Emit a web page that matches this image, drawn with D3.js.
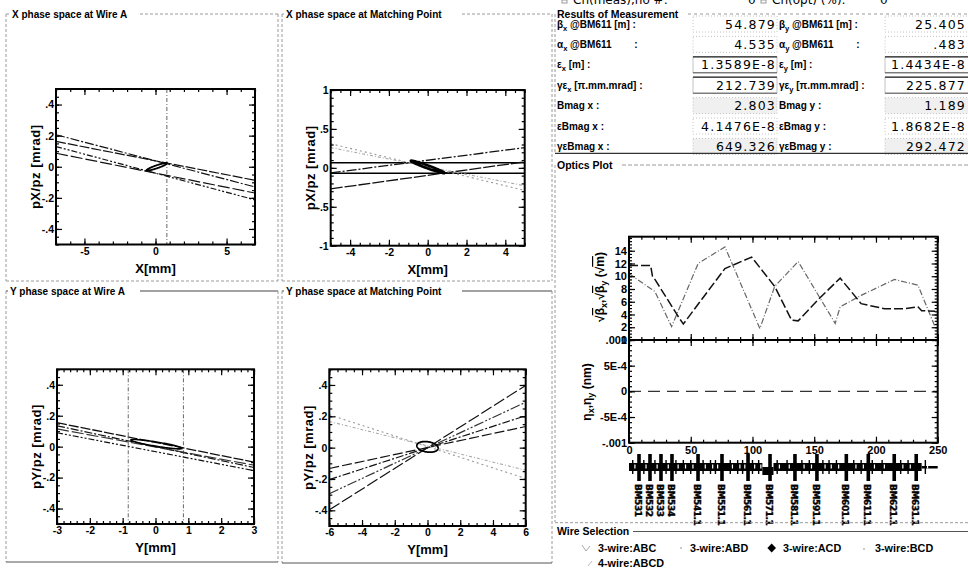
<!DOCTYPE html>
<html><head><meta charset="utf-8">
<script src="https://cdn.jsdelivr.net/npm/d3@7/dist/d3.min.js"></script>
<style>
body{margin:0;background:#fff;}
svg{display:block;}
</style></head><body>
<svg id="c" width="968" height="570"></svg>
<script>
// ================= DATA =================
// phase-space lines [x0, y0, x1, y1] in data units
const xWireA_lines=[[-7,0.206,7,-0.130],[-7,0.163,7,-0.087],[-7,0.130,7,-0.213],[-7,0.087,7,-0.169]];
const xWireA_wireX=[0.8];
const xWireA_beam=[0.1,0.0,0.72,0.022,0.010];      // xc, yc, A, B, C
const xMatch_lines=[[-5,0.065,5,0.065],[-5,-0.07,5,-0.07],[-5,-0.065,5,0.26],[-5,-0.27,5,0.077],[-5,0.31,5,-0.29],[-5,0.26,5,-0.23]];
const xMatch_beam=[0.0,0.012,0.87,-0.078,0.02];
const yWireA_lines=[[-3,0.155,3,-0.10],[-3,0.135,3,-0.135],[-3,0.115,3,-0.12],[-3,0.09,3,-0.155]];
const yWireA_wireX=[-0.83,0.85];
const yWireA_beam=[0.03,0.016,0.78,-0.027,0.014];
const yMatch_lines=[[-6,0.21,6,-0.197],[-6,0.167,6,-0.144],[-6,-0.133,6,0.135],[-6,-0.204,6,0.204],[-6,-0.294,6,0.29],[-6,-0.397,6,0.397]];
const yMatch_beam=[0.0,0.005,0.65,-0.008,0.033];

const ticksX7=[-5,0,5], ticksY5=[-0.4,-0.2,0,0.2,0.4];
const ticksX5=[-4,-2,0,2,4], ticksY1=[-1,-0.5,0,0.5,1];
const ticksX3=[-3,-2,-1,0,1,2,3], ticksX6=[-6,-4,-2,0,2,4,6];

// optics (s [m], sqrt(beta) [sqrt(m)])
const optS_A=[0,21,34.5,56,77.7,106,118,137,167,171,188,215,234,248];
const optV_A=[10.4,7.6,2.1,12,14.6,1.8,8.4,12.3,2.6,5.2,7.0,9.5,8.6,2.0];
const optS_B=[0,17.5,19,21,40,44,59,77.7,99.3,118,131.7,137,153,171,188,207,223.5,234,237,248];
const optV_B=[11.7,11.7,10,9.5,3.65,2.5,6.4,11.2,13,8.4,3.1,3.0,6.3,9.7,5.7,4.9,4.9,5.2,4.6,4.5];
const etaS=[0,250], etaV=[0,0];
const optTicksS=[0,50,100,150,200,250];
const optTicksB=[0,2,4,6,8,10,12,14];
const etaTicks=[-0.001,-0.0005,0,0.0005,0.001];
const etaTickLabels=["-.001","-5E-4","0","5E-4",".001"];

// lattice
const latticeQuadS=[8.1,17,25.9,34.8,55.9,75.3,96.4,114.2,134.4,152.2,176,193.8,214.8,232.6];
const latticeQuadNames=["BM531","BM532","BM533","BM534","BM541.1","BM551.1","BM561.1","BM571.1","BM581.1","BM591.1","BM601.1","BM611.1","BM621.1","BM631.1"];
const latticeSmallS=[3,12,21,30,38,44,50,60,66,70,82,88,92,100,105,120,128,140,146,157,162,168,182,188,197,205,220,226,240];

// results table
const resLabelsX=["β_x @BM611 [m] :","α_x @BM611\u2003\u2003 :","ε_x [m] :","γε_x [π.mm.mrad] :","Bmag x :","εBmag x :","γεBmag x :"];
const resValuesX=["54.879","4.535","1.3589E-8","212.739","2.803","4.1476E-8","649.326"];
const resLabelsY=["β_y @BM611 [m] :","α_y @BM611\u2003\u2003 :","ε_y [m] :","γε_y [π.mm.mrad] :","Bmag y :","εBmag y :","γεBmag y :"];
const resValuesY=["25.405",".483","1.4434E-8","225.877","1.189","1.8682E-8","292.472"];
const wireOptions=["3-wire:ABC","3-wire:ABD","3-wire:ACD","3-wire:BCD","4-wire:ABCD"];

// ================= DRAWING =================
const svg=d3.select("#c");
const FF="'Liberation Sans', Arial, sans-serif";
svg.append("rect").attr("width",968).attr("height",570).attr("fill","#fff");

function txt(x,y,s,o={}){
  return svg.append("text").attr("x",x).attr("y",y).text(s)
    .style("font-size",(o.fs||10)+"px").style("font-weight",o.w||"bold")
    .style("font-family",o.ff||FF).attr("text-anchor",o.a||"start").attr("fill",o.c||"#000")
    .style("letter-spacing",o.ls||null).style("white-space","pre");
}
function rich(parent,str,fs){
  const parts=str.split(/(_.)/).filter(s=>s.length);
  let down=false;
  parts.forEach(p=>{
    if(p[0]==="_"){parent.append("tspan").text(p[1]).attr("dy",3).style("font-size",(fs*0.75)+"px");down=true;}
    else{const t=parent.append("tspan").text(p); if(down){t.attr("dy",-3);down=false;}}
  });
}
function hline(x1,x2,y,c,dash,w){svg.append("line").attr("x1",x1).attr("x2",x2).attr("y1",y).attr("y2",y).attr("stroke",c).attr("stroke-dasharray",dash).attr("stroke-width",w||1);}
function vline(x,y1,y2,c,dash,w){svg.append("line").attr("x1",x).attr("x2",x).attr("y1",y1).attr("y2",y2).attr("stroke",c).attr("stroke-dasharray",dash).attr("stroke-width",w||1);}

const fmt=d=>{let s=String(Math.round(d*1000)/1000);return s.replace(/^(-?)0\./,"$1.");};

function axes(g,x,y,L,T,R,B,xMaj,xMin,yMaj,yMin,fx,fy,fs,o={}){
  const mk=(fn,sc,vals,size,f,tr,pad)=>{
    const a=g.append("g").attr("transform",tr)
      .call(fn(sc).tickValues(vals).tickSize(size).tickSizeOuter(0).tickPadding(pad||3).tickFormat(f||(()=>"")));
    a.select(".domain").remove();
    a.attr("font-family",null).attr("font-size",null);
    a.selectAll("line").attr("stroke","#000").attr("stroke-width",1.2);
    a.selectAll("text").attr("fill","#000").style("font-size",fs+"px").style("font-weight","bold").style("font-family",FF);
    return a;
  };
  if(!o.noBottom){mk(d3.axisBottom,x,xMaj,-6,o.noXLabels?null:fx,`translate(0,${B})`,o.xpad||3);mk(d3.axisBottom,x,xMin,-3,null,`translate(0,${B})`);}
  if(!o.noTop){mk(d3.axisTop,x,xMaj,-6,null,`translate(0,${T})`);mk(d3.axisTop,x,xMin,-3,null,`translate(0,${T})`);}
  mk(d3.axisLeft,y,yMaj,-6,fy,`translate(${L},0)`,2);mk(d3.axisLeft,y,yMin,-3,null,`translate(${L},0)`);
  mk(d3.axisRight,y,yMaj,-6,null,`translate(${R},0)`);mk(d3.axisRight,y,yMin,-3,null,`translate(${R},0)`);
}

let clipN=0;
function phase(p){
  const [L,T,R,B]=p.box;
  const x=d3.scaleLinear().domain(p.xd).range([L,R]);
  const y=d3.scaleLinear().domain(p.yd).range([B,T]);
  const g=svg.append("g");
  const cid="clip"+(clipN++);
  svg.append("clipPath").attr("id",cid).append("rect").attr("x",L).attr("y",T).attr("width",R-L).attr("height",B-T);
  const pg=g.append("g").attr("clip-path",`url(#${cid})`);
  pg.selectAll("line.w").data(p.wires||[]).join("line").attr("class","w")
    .attr("x1",d=>x(d)).attr("x2",d=>x(d)).attr("y1",T).attr("y2",B)
    .attr("stroke","#555").attr("stroke-dasharray","4,2,1,2").attr("stroke-width",0.9);
  pg.selectAll("line.l").data(p.lines).join("line").attr("class","l")
    .attr("x1",d=>x(d[0])).attr("y1",d=>y(d[1])).attr("x2",d=>x(d[2])).attr("y2",d=>y(d[3]))
    .attr("stroke",(d,i)=>p.styles[i].c).attr("stroke-dasharray",(d,i)=>p.styles[i].d)
    .attr("stroke-width",(d,i)=>p.styles[i].w);
  const e=p.beam;
  const ang=d3.range(0,2*Math.PI+0.05,Math.PI/60);
  const ln=d3.line().x(a=>x(e[0]+e[2]*Math.cos(a))).y(a=>y(e[1]+e[3]*Math.cos(a)+e[4]*Math.sin(a)));
  pg.append("path").attr("d",ln(ang)).attr("fill","none").attr("stroke","#000").attr("stroke-width",p.ellW);
  const xmin=d3.range(p.xd[0],p.xd[1]+1e-9,p.xStep), ymin=d3.range(p.yd[0],p.yd[1]+1e-9,p.yStep);
  axes(g,x,y,L,T,R,B,p.xMaj,xmin,p.yMaj,ymin,fmt,fmt,10.5);
  g.append("rect").attr("x",L).attr("y",T).attr("width",R-L).attr("height",B-T)
    .attr("fill","none").attr("stroke","#000").attr("stroke-width",2);
  txt((L+R)/2,B+28,p.xl,{fs:13,a:"middle"});
  txt(0,0,p.yl,{fs:13,a:"middle",ls:"0.5px"}).attr("transform",`translate(${L-16},${(T+B)/2}) rotate(-90)`);
  txt(p.tx,p.ty,p.title,{fs:10});
}

const dk="#111";
phase({title:"X phase space at Wire A",tx:12,ty:18,box:[56,89,255,244.5],xd:[-7,7],yd:[-0.5,0.5],
  xMaj:ticksX7,xStep:1,yMaj:ticksY5,yStep:0.05,xl:"X[mm]",yl:"pX/pz [mrad]",
  lines:xWireA_lines,wires:xWireA_wireX,beam:xWireA_beam,ellW:1.8,
  styles:[{c:dk,d:"9,2,2,2",w:1.2},{c:dk,d:"10,2",w:1.2},{c:dk,d:"6,2,2,2,2,2",w:1.2},{c:dk,d:"12,3",w:1.2}]});
phase({title:"X phase space at Matching Point",tx:286,ty:18,box:[330.7,90,524.7,245.7],xd:[-5,5],yd:[-1,1],
  xMaj:ticksX5,xStep:0.5,yMaj:ticksY1,yStep:0.1,xl:"X[mm]",yl:"pX/pz [mrad]",
  lines:xMatch_lines,wires:[],beam:xMatch_beam,ellW:2.6,
  styles:[{c:"#000",d:null,w:1.6},{c:"#000",d:null,w:1.6},{c:dk,d:"10,2,2,2",w:1.3},{c:dk,d:"12,2",w:1.3},{c:"#999",d:"2,3",w:1.1},{c:"#aaa",d:"3,2,1,2",w:1.1}]});
phase({title:"Y phase space at Wire A",tx:10,ty:295,box:[57,369.3,254,524],xd:[-3,3],yd:[-0.5,0.5],
  xMaj:ticksX3,xStep:0.2,yMaj:ticksY5,yStep:0.05,xl:"Y[mm]",yl:"pY/pz [mrad]",
  lines:yWireA_lines,wires:yWireA_wireX,beam:yWireA_beam,ellW:1.6,
  styles:[{c:dk,d:"10,2",w:1.3},{c:dk,d:"8,2,2,2",w:1.2},{c:"#333",d:"12,3",w:1.2},{c:dk,d:"6,2,2,2,2,2",w:1.2}]});
phase({title:"Y phase space at Matching Point",tx:286,ty:295,box:[329.3,369.3,525.7,526],xd:[-6,6],yd:[-0.5,0.5],
  xMaj:ticksX6,xStep:0.5,yMaj:ticksY5,yStep:0.05,xl:"Y[mm]",yl:"pY/pz [mrad]",
  lines:yMatch_lines,wires:[],beam:yMatch_beam,ellW:1.8,
  styles:[{c:"#999",d:"2,3",w:1.1},{c:"#aaa",d:"3,2,1,2",w:1.1},{c:dk,d:"10,3",w:1.2},{c:dk,d:"8,2,2,2",w:1.2},{c:"#333",d:"10,2,2,2,2,2",w:1.2},{c:dk,d:"12,3",w:1.2}]});

// group frames (left side)
const fr="#9a9a9a";
hline(6,10,14,fr,"3,2");hline(140,278,14,fr,"3,2");vline(6,14,281,fr,"3,2");vline(278,14,281,fr,"3,2");hline(6,278,281,fr,"3,2");
hline(282,284,14,fr,"3,2");hline(462,552,14,fr,"3,2");vline(282,14,281,fr,"3,2");vline(552,14,281,fr,"3,2");hline(282,552,281,fr,"3,2");
hline(6,8,291,"#444",null);hline(140,278,291,"#444",null);vline(6,291,562,fr,"3,2");vline(278,291,562,fr,"3,2");hline(6,278,562,"#555",null);
hline(282,284,291,"#444",null);hline(462,552,291,"#444",null);vline(282,291,563,fr,"3,2");vline(552,291,563,fr,"3,2");hline(282,552,563,"#555",null);

// ---------- right column: header (cut at top edge, as in the reference) ----------
svg.append("rect").attr("x",562).attr("y",0).attr("width",5).attr("height",3).attr("fill","none").attr("stroke","#999");
txt(573,4,"Ch(meas),no #:",{fs:12,w:"normal",ff:"'DejaVu Sans', sans-serif"});
txt(748,4,"0",{fs:12,w:"normal",ff:"'DejaVu Sans', sans-serif"});
svg.append("rect").attr("x",761).attr("y",0).attr("width",5).attr("height",3).attr("fill","none").attr("stroke","#999");
txt(772,4,"Ch(opt) (%):",{fs:12,w:"normal",ff:"'DejaVu Sans', sans-serif"});
txt(880,4,"0",{fs:12,w:"normal",ff:"'DejaVu Sans', sans-serif"});

txt(557,17.5,"Results of Measurement",{fs:10.5});
hline(688,968,14,fr,"3,3");
vline(555,14,153,fr,"3,2");

const rowY=i=>24+i*20.4;
const boxStyle=["dot","dot","solid","solid","shade","dot","shade"];
[[resLabelsX,resValuesX,557,693,776],[resLabelsY,resValuesY,779,885,966]].forEach(([labs,vals,lx,bx,vx])=>{
  labs.forEach((s,i)=>{
    const cy=rowY(i);
    const st=boxStyle[i];
    svg.append("rect").attr("x",bx).attr("y",cy-8).attr("width",84).attr("height",16)
      .attr("fill",st==="shade"?"#f0f0f0":"#fff").attr("stroke","#b5b5b5").attr("stroke-width",0.8)
      .attr("stroke-dasharray",st==="solid"?null:"1,2");
    if(st==="solid"){hline(bx,bx+84,cy-8,"#222",null,1.2);hline(bx,bx+84,cy+8,"#555",null,1);}
    const t=txt(lx,cy+3.5,"",{fs:10});
    rich(t,s,10);
    txt(vx,cy+4.5,vals[i],{fs:12.5,w:"normal",ff:"'DejaVu Sans', sans-serif",a:"end",ls:"1.2px"});
  });
});
hline(555,968,153.3,"#333",null,1.2);

// ---------- optics plot ----------
txt(557,168.5,"Optics Plot",{fs:10.5});
hline(622,968,165,fr,"4,2");
vline(555,165,522,fr,"3,2");
const oL=629,oR=937.7,oT=236.7,oM=340,oB=442.7;
const sx=d3.scaleLinear().domain([0,250]).range([oL,oR]);
const by=d3.scaleLinear().domain([0,16.2]).range([oM,oT]);
const ey=d3.scaleLinear().domain([-0.001,0.001]).range([oB,oM]);
const og=svg.append("g");
const lineA=d3.line().x((d,i)=>sx(optS_A[i])).y(d=>by(d));
const lineB=d3.line().x((d,i)=>sx(optS_B[i])).y(d=>by(d));
og.append("path").attr("d",lineA(optV_A)).attr("fill","none").attr("stroke","#666").attr("stroke-width",1.2).attr("stroke-dasharray","6,2,1,2");
og.append("path").attr("d",lineB(optV_B)).attr("fill","none").attr("stroke","#111").attr("stroke-width",1.5).attr("stroke-dasharray","9,3");
const lineE=d3.line().x((d,i)=>sx(etaS[i])).y(d=>ey(d));
og.append("path").attr("d",lineE(etaV)).attr("fill","none").attr("stroke","#333").attr("stroke-width",1.2).attr("stroke-dasharray","12,7");
axes(og,sx,by,oL,oT,oR,oM,optTicksS,d3.range(0,251,10),optTicksB,d3.range(0,16.01,0.5),fmt,d=>String(d),11,{noXLabels:true});
axes(og,sx,ey,oL,oM,oR,oB,optTicksS,d3.range(0,251,10),etaTicks,d3.range(-0.001,0.00101,0.0001),d=>String(d),(d,i)=>etaTickLabels[i],11,{xpad:4});
og.append("rect").attr("x",oL).attr("y",oT).attr("width",oR-oL).attr("height",oM-oT).attr("fill","none").attr("stroke","#000").attr("stroke-width",2);
og.append("rect").attr("x",oL).attr("y",oM).attr("width",oR-oL).attr("height",oB-oM).attr("fill","none").attr("stroke","#000").attr("stroke-width",2);

// y labels
const ul=txt(0,0,"",{fs:12,a:"middle"}).attr("transform","translate(604,287) rotate(-90)");
[["√",0],["β",1],["x",2],[",√",0],["β",1],["y",2],[" (√",0],["m",1],[")",0]].forEach(([s,k])=>{
  const t=ul.append("tspan").text(s);
  if(k===1)t.style("text-decoration","overline");
  if(k===2)t.attr("dy",3).style("font-size","9px");
  if(k!==2 && ul.node().lastChild.previousSibling && ul.node().lastChild.previousSibling.getAttribute("dy")==="3")t.attr("dy",-3);
});
const ll=txt(0,0,"",{fs:12,a:"middle"}).attr("transform","translate(591,392) rotate(-90)");
[["η",0],["x",2],[",η",0],["y",2],[" (nm)",0]].forEach(([s,k])=>{
  const t=ll.append("tspan").text(s);
  if(k===2)t.attr("dy",3).style("font-size","9px");
  if(k!==2 && ll.node().lastChild.previousSibling && ll.node().lastChild.previousSibling.getAttribute("dy")==="3")t.attr("dy",-3);
});

// ---------- lattice ----------
const lg=svg.append("g");
lg.append("rect").attr("x",sx(0)).attr("y",463).attr("width",sx(108)-sx(0)).attr("height",8).attr("fill","#000");
lg.append("rect").attr("x",sx(108)).attr("y",467).attr("width",sx(117)-sx(108)).attr("height",8).attr("fill","#000");
lg.append("rect").attr("x",sx(117)).attr("y",463).attr("width",sx(237)-sx(117)).attr("height",8).attr("fill","#000");
lg.append("rect").attr("x",sx(237)).attr("y",466).attr("width",sx(250)-sx(237)).attr("height",2.5).attr("fill","#000");
lg.selectAll("rect.sm").data(latticeSmallS).join("rect").attr("class","sm")
  .attr("x",d=>sx(d)-0.7).attr("y",460).attr("width",1.4).attr("height",14).attr("fill","#000");
lg.selectAll("rect.slit").data(latticeSmallS).join("rect").attr("class","slit")
  .attr("x",d=>sx(d)+1.6).attr("y",464.5).attr("width",1.2).attr("height",4).attr("fill","#fff");
lg.selectAll("rect.q").data(latticeQuadS).join("rect").attr("class","q")
  .attr("x",d=>sx(d)-1.8).attr("y",454).attr("width",3.6).attr("height",27).attr("fill","#000");
lg.selectAll("text.qn").data(latticeQuadNames).join("text").attr("class","qn")
  .attr("transform",(d,i)=>`translate(${sx(latticeQuadS[i])-4},484) rotate(90)`)
  .text(d=>d).style("font-size","9px").style("font-weight","bold").style("font-family","'DejaVu Sans', sans-serif")
  .style("letter-spacing","-0.4px").attr("fill","#000").attr("stroke","#000").attr("stroke-width",0.4);

// ---------- wire selection ----------
hline(555,968,522.7,fr,"3,2");
txt(557,535,"Wire Selection",{fs:10.5});
hline(633,968,531.5,"#555",null);
const legX=[598,690,783,875,598], legY=[552,552,552,552,567];
wireOptions.forEach((s,i)=>txt(legX[i],legY[i],s,{fs:10.8}));
svg.append("path").attr("d","M582,545 L586,551 L590,546").attr("fill","none").attr("stroke","#aaa").attr("stroke-width",1);
svg.append("circle").attr("cx",681).attr("cy",548).attr("r",1).attr("fill","#bbb");
svg.append("path").attr("d","M771.7,543.5 L776,548 L771.7,552.5 L767.4,548 Z").attr("fill","#000");
svg.append("circle").attr("cx",864).attr("cy",549).attr("r",1).attr("fill","#bbb");
svg.append("path").attr("d","M588,566 L592,561").attr("fill","none").attr("stroke","#bbb").attr("stroke-width",1);
</script></body></html>
